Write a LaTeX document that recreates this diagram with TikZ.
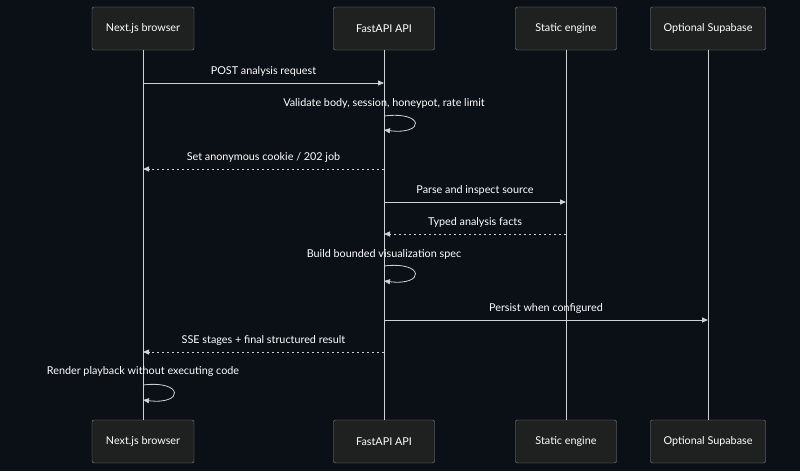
\documentclass[tikz,border=0pt]{standalone}
\usepackage{fontspec}
\setmainfont{Lato}
\usetikzlibrary{arrows.meta}
\definecolor{bg}{HTML}{0B0F16}
\definecolor{boxf}{HTML}{1F2020}
\definecolor{boxd}{HTML}{8A8A8A}
\definecolor{ln}{HTML}{D0D0D0}
\begin{document}
\begin{tikzpicture}[x=1pt,y=-1pt,
  actor/.style={draw=boxd,fill=boxf,rounded corners=2pt,minimum height=43pt,text=white,font=\fontsize{10.8}{12}\selectfont,inner sep=0pt},
  msg/.style={draw=ln,line width=0.8pt,-{Triangle[length=6pt,width=5pt]}},
  rep/.style={msg,dash pattern=on 2.5pt off 2.5pt},
  lbl/.style={text=white,font=\fontsize{10.8}{12}\selectfont},
  life/.style={draw=ln,line width=0.6pt}]
\fill[bg] (0,0) rectangle (800,471);
\useasboundingbox (0,0) rectangle (800,471);
\foreach \n/\x/\w/\t in {a/143/102/Next.js browser,b/384/101/FastAPI API,c/566/101/Static engine,d/708/115/Optional Supabase}{
  \node[actor,minimum width=\w pt] (\n t) at (\x,28.5) {\t};
  \node[actor,minimum width=\w pt] (\n b) at (\x,441.5) {\t};
  \draw[life] (\n t.south) -- (\n b.north);
}
\coordinate (a1) at (143,83); \coordinate (b1) at (384,83);
\draw[msg] (a1) -- (b1) node[lbl,midway,above=3pt] {POST analysis request};
\node[lbl] (t2) at (384,103) {Validate body, session, honeypot, rate limit};
\coordinate (s2a) at (384,116); \coordinate (s2b) at (384,130);
\draw[msg] (s2a) .. controls (425,111) and (425,135) .. (s2b);
\coordinate (b3) at (384,169); \coordinate (a3) at (143,169);
\draw[rep] (b3) -- (a3) node[lbl,midway,above=3pt] {Set anonymous cookie / 202 job};
\coordinate (b4) at (384,202); \coordinate (c4) at (566,202);
\draw[msg] (b4) -- (c4) node[lbl,midway,above=3pt] {Parse and inspect source};
\coordinate (c5) at (566,234); \coordinate (b5) at (384,234);
\draw[rep] (c5) -- (b5) node[lbl,midway,above=3pt] {Typed analysis facts};
\node[lbl] (t6) at (384,254) {Build bounded visualization spec};
\coordinate (s6a) at (384,266); \coordinate (s6b) at (384,281);
\draw[msg] (s6a) .. controls (425,261) and (425,286) .. (s6b);
\coordinate (b7) at (384,320); \coordinate (d7) at (708,320);
\draw[msg] (b7) -- (d7) node[lbl,midway,above=3pt] {Persist when configured};
\coordinate (b8) at (384,352); \coordinate (a8) at (143,352);
\draw[rep] (b8) -- (a8) node[lbl,midway,above=3pt] {SSE stages + final structured result};
\node[lbl] (t9) at (143,372) {Render playback without executing code};
\coordinate (s9a) at (143,385); \coordinate (s9b) at (143,400);
\draw[msg] (s9a) .. controls (184,380) and (184,405) .. (s9b);
\end{tikzpicture}
\end{document}
